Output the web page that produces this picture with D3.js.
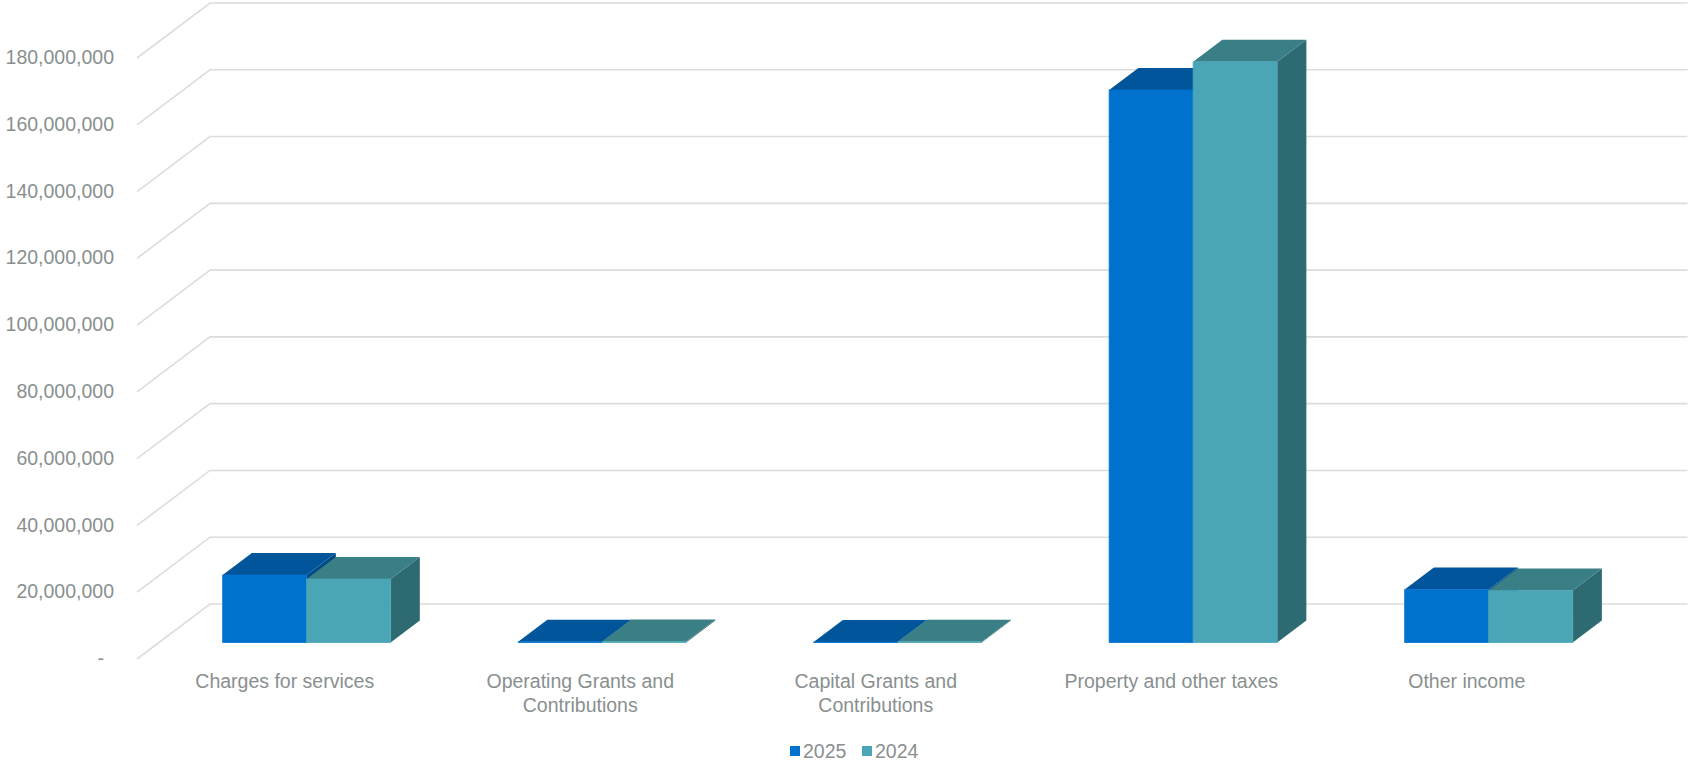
<!DOCTYPE html>
<html>
<head>
<meta charset="utf-8">
<script src="https://cdn.jsdelivr.net/npm/d3@7"></script>
<style>
  body { margin: 0; background: #fff; }
  text { font-family: "Liberation Sans", Arial, sans-serif; font-size: 19.5px; fill: #898f8f; }
</style>
</head>
<body>
<svg id="chart"></svg>
<script>
// data
const categories = [
    ["Charges for services"],
    ["Operating Grants and", "Contributions"],
    ["Capital Grants and", "Contributions"],
    ["Property and other taxes"],
    ["Other income"]
];
const seriesNames = ["2025", "2024"];
const values2025 = [20200000, 250000, 150000, 165500000, 15900000];
const values2024 = [19000000, 300000, 200000, 173900000, 15600000];
const yTicks = [0, 20000000, 40000000, 60000000, 80000000, 100000000, 120000000, 140000000, 160000000, 180000000];

const width = 1690;
const height = 769;

// 3d floor / wall geometry
const depthX = 73;
const depthY = -55;
const barFront = 0.3;
const barBack = 0.7;

const colors = {
    "2025": { front: "#0071cd", top: "#00559b", side: "#004a86" },
    "2024": { front: "#4aa6b6", top: "#3a7e86", side: "#2d6a72" }
};

const svg = d3.select('#chart')
    .attr('width', width).attr('height', height);

const x = d3.scaleBand()
    .domain(d3.range(categories.length))
    .range([137, 1614.5])
    .paddingInner(0.4315)
    .paddingOuter(0.2157);

const xSeries = d3.scaleBand()
    .domain(seriesNames)
    .range([0, x.bandwidth()]);

const y = d3.scaleLinear()
    .domain([0, 180000000])
    .range([659, 58]);

// project a point of the front plane to depth d (0 front .. 1 back)
function P(px, py, d) {
    return [px + d * depthX, py + d * depthY];
}

const grid = svg.append('g');
const left = x.range()[0];
const right = x.range()[1];

yTicks.forEach(t => {
    const a = P(left, y(t), 0);
    const b = P(left, y(t), 1);
    const c = P(right, y(t), 1);
    grid.append('path')
        .attr('d', d3.line()([a, b, c]))
        .attr('fill', 'none')
        .attr('stroke', '#dcdcdc')
        .attr('stroke-width', 1.6);
});

// y labels
const fmt = d3.format(',');
svg.append('g').selectAll('text')
    .data(yTicks)
    .enter().append('text')
    .attr('x', d => d === 0 ? 104 : 114)
    .attr('y', d => y(d) + 1)
    .attr('text-anchor', 'end')
    .attr('dominant-baseline', 'middle')
    .text(d => d === 0 ? '-' : fmt(d));

// bars
const series = [
    { name: "2025", values: values2025 },
    { name: "2024", values: values2024 }
];

const bars = svg.append('g');
categories.forEach((cat, i) => {
    series.forEach(s => {
        const v = s.values[i];
        const x0 = x(i) + xSeries(s.name);
        const x1 = x0 + xSeries.bandwidth();
        const yb = y(0);
        const yt = y(v);
        const col = colors[s.name];
        const poly = pts => bars.append('path')
            .attr('d', d3.line()(pts) + 'Z');

        // side
        poly([P(x1, yb, barFront), P(x1, yb, barBack), P(x1, yt, barBack), P(x1, yt, barFront)])
            .attr('fill', col.side);
        // top
        poly([P(x0, yt, barFront), P(x1, yt, barFront), P(x1, yt, barBack), P(x0, yt, barBack)])
            .attr('fill', col.top);
        // front
        poly([P(x0, yb, barFront), P(x1, yb, barFront), P(x1, yt, barFront), P(x0, yt, barFront)])
            .attr('fill', col.front)
            .attr('stroke', col.front)
            .attr('stroke-width', 0.8);
    });
});

// category labels
const labels = svg.append('g');
categories.forEach((lines, i) => {
    const cx = x(i) + x.bandwidth() / 2;
    const t = labels.append('text')
        .attr('text-anchor', 'middle')
        .attr('x', cx)
        .attr('y', 688);
    lines.forEach((ln, k) => {
        t.append('tspan')
            .attr('x', cx)
            .attr('dy', k === 0 ? 0 : 24)
            .text(ln);
    });
});

// legend
const legend = svg.append('g');
const legendX = [790, 862];
seriesNames.forEach((name, i) => {
    legend.append('rect')
        .attr('x', legendX[i]).attr('y', 746)
        .attr('width', 10).attr('height', 10)
        .attr('fill', colors[name].front);
    legend.append('text')
        .attr('x', legendX[i] + 13)
        .attr('y', 758)
        .text(name);
});
</script>
</body>
</html>
